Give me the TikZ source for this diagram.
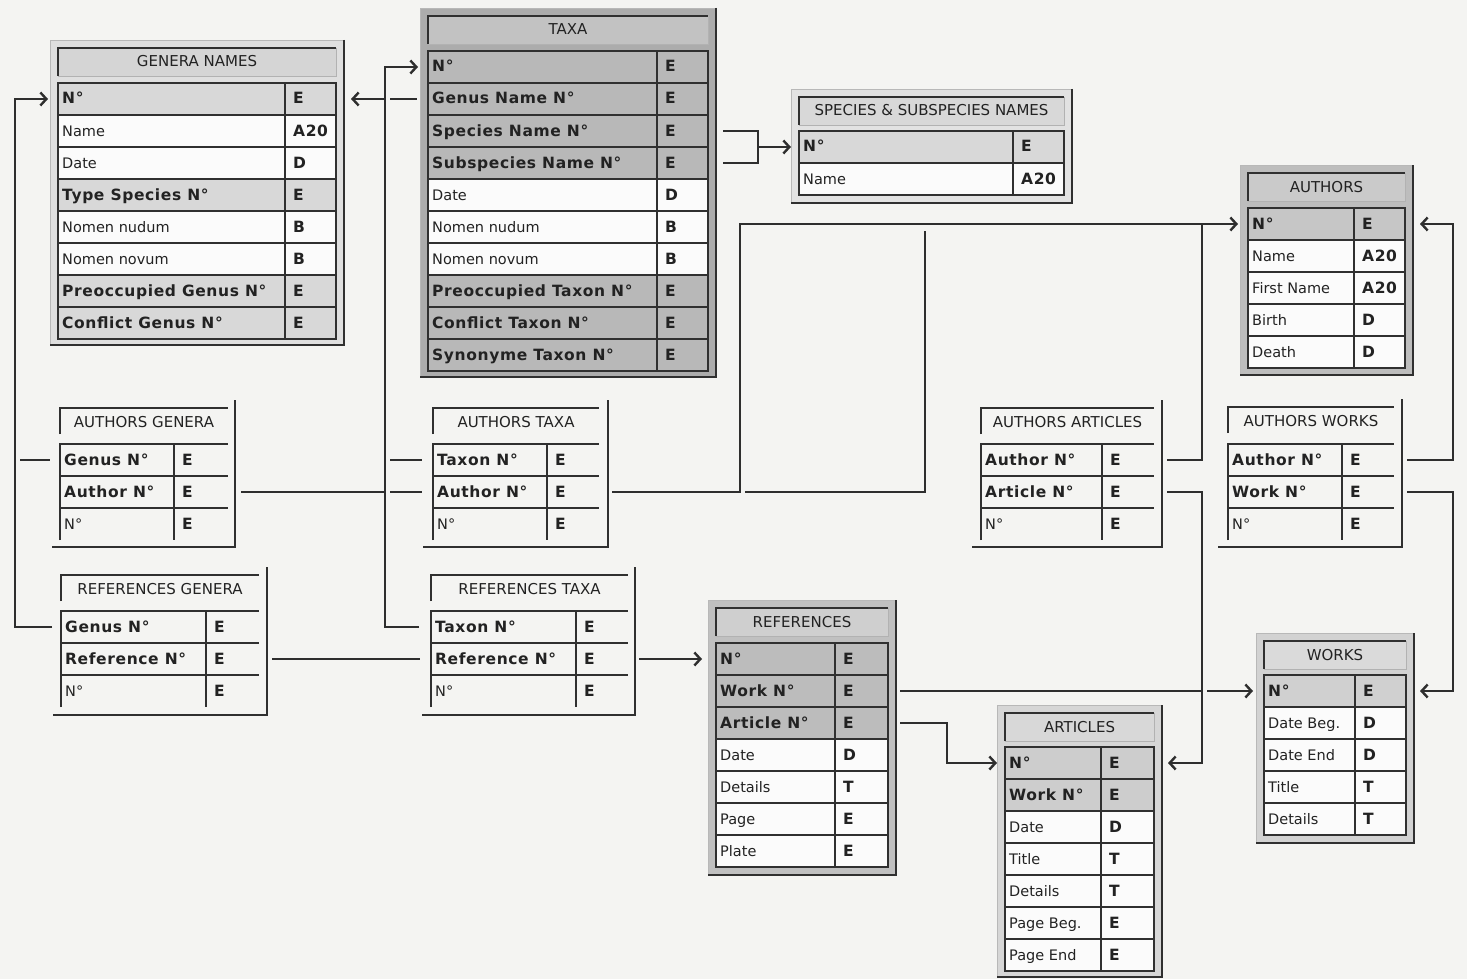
\documentclass[tikz,border=0pt]{standalone}
\usepackage{fontspec}
\setmainfont{DejaVu Sans}
\newfontfamily\chic{DejaVu Sans}[LetterSpace=4]
\usetikzlibrary{arrows.meta,calc}
\definecolor{bg}{HTML}{F4F4F2}
\definecolor{gridc}{HTML}{303030}
\definecolor{connc}{HTML}{2E2E2E}
\definecolor{txt}{HTML}{222222}
\definecolor{wrow}{HTML}{FBFBFB}
\definecolor{gnf}{HTML}{DFDFDF}\definecolor{gnb}{HTML}{D5D5D5}\definecolor{gnk}{HTML}{D8D8D8}
\definecolor{txf}{HTML}{ACACAC}\definecolor{txb}{HTML}{C2C2C2}\definecolor{txk}{HTML}{B8B8B8}
\definecolor{spf}{HTML}{E2E2E2}\definecolor{spb}{HTML}{D8D8D8}\definecolor{spk}{HTML}{D8D8D8}
\definecolor{auf}{HTML}{BDBDBD}\definecolor{aub}{HTML}{CACACA}\definecolor{auk}{HTML}{C6C6C6}
\definecolor{rff}{HTML}{C0C0C0}\definecolor{rfb}{HTML}{CFCFCF}\definecolor{rfk}{HTML}{BCBCBC}
\definecolor{arf}{HTML}{D6D6D6}\definecolor{arb}{HTML}{D8D8D8}\definecolor{ark}{HTML}{CDCDCD}
\definecolor{wkf}{HTML}{D2D2D2}\definecolor{wkb}{HTML}{DADADA}\definecolor{wkk}{HTML}{D0D0D0}
\newcommand\frg{\fontsize{14.5}{16}\selectfont}
\newcommand\ftl{\fontsize{15}{17}\selectfont}
\newcommand\fbd{\chic\bfseries\fontsize{15.5}{18}\selectfont}
\tikzset{
  grid/.style={draw=gridc, line width=1.3pt},
  framedark/.style={draw=gridc, line width=1.8pt},
  rowbox/.style={rectangle, draw=gridc, line width=1.2pt, minimum height=32pt, inner sep=0pt, outer sep=0pt},
  lrow/.style={rectangle, minimum height=32pt, inner sep=0pt, outer sep=0pt},
  lbl/.style={anchor=base west, inner sep=0pt, text=txt},
  typ/.style={anchor=base west, inner sep=0pt, text=txt, font=\fbd},
  ttl/.style={inner sep=0pt, text=txt, font=\ftl},
  mframe/.style={rectangle, draw=black!28, line width=0.8pt, inner sep=0pt, outer sep=0pt},
  tbar/.style={rectangle, draw=black!30, line width=0.8pt, inner sep=0pt, outer sep=0pt},
  conn/.style={draw=connc, line width=2.4pt},
  tip/.style={-{Straight Barb[length=6pt,width=13pt]}},
}
% main table frame: name, x0, y0, x1, y1, frame fill, bar fill, title
\newcommand\MTable[8]{%
  \node[mframe, fill=#6, minimum width={(#4-#2)*1pt}, minimum height={(#5-#3)*1pt}, anchor=north west] (#1) at (#2,#3) {};
  \draw[framedark] (#1.north east) -- (#1.south east) -- (#1.south west);
  \node[tbar, fill=#7, minimum width={(#4-#2-16)*1pt}, minimum height=28pt, anchor=north west] (#1-bar) at (#2+8,#3+8) {};
  \draw[grid] (#1-bar.south west) -- (#1-bar.north west) -- (#1-bar.north east);
  \node[ttl, anchor=base] (#1-title) at ($(#1-bar.center)+(0,5)$) {#8};
}
% main table row: name, left, top, divider, right, fill, font, label, type
\newcommand\KRow[9]{%
  \node[rowbox, fill=#6, minimum width={(#5-#2)*1pt}, anchor=north west] (#1) at (#2,#3) {};
  \draw[grid] (#4,#3) -- (#4,#3+32);
  \node[lbl, font=#7] (#1-l) at ($(#1.west)+(4,5)$) {#8};
  \node[typ] (#1-t) at (#4+8,#3+21) {#9};
}
% link table title and frame: name, xl, ytop, xr, xframe, ybottom, xbottomleft, title
\newcommand\LTitle[8]{%
  \coordinate (#1-tl) at (#2,#3);
  \draw[grid] (#2,#3+26) -- (#1-tl) -- (#4,#3);
  \node[ttl, anchor=base] (#1-title) at ({(#2+#4)/2},#3+19) {#8};
  \draw[grid] (#5,#3-8) -- (#5,#6) -- (#7,#6);
}
% link table row: name, left, top, divider, right, font, label, type
\newcommand\LRow[8]{%
  \node[lrow, minimum width={(#5-#2)*1pt}, anchor=north west] (#1) at (#2,#3) {};
  \draw[grid] (#1.south west) -- (#1.north west) -- (#1.north east);
  \draw[grid] (#4,#3) -- (#4,#3+32);
  \node[lbl, font=#6] (#1-l) at ($(#1.west)+(4,5)$) {#7};
  \node[typ] (#1-t) at (#4+8,#3+21) {#8};
}
\begin{document}
\begin{tikzpicture}[x=1pt,y=-1pt]
\fill[bg] (0,0) rectangle (1467,979);
\useasboundingbox (0,0) rectangle (1467,979);

% ---------- GENERA NAMES ----------
\MTable{gn}{50}{40}{344}{345}{gnf}{gnb}{GENERA NAMES}
\KRow{gn-no}{58}{83}{285}{336}{gnk}{\fbd}{N°}{E}
\KRow{gn-name}{58}{115}{285}{336}{wrow}{\frg}{Name}{A20}
\KRow{gn-date}{58}{147}{285}{336}{wrow}{\frg}{Date}{D}
\KRow{gn-type}{58}{179}{285}{336}{gnk}{\fbd}{Type Species N°}{E}
\KRow{gn-nud}{58}{211}{285}{336}{wrow}{\frg}{Nomen nudum}{B}
\KRow{gn-nov}{58}{243}{285}{336}{wrow}{\frg}{Nomen novum}{B}
\KRow{gn-pre}{58}{275}{285}{336}{gnk}{\fbd}{Preoccupied Genus N°}{E}
\KRow{gn-con}{58}{307}{285}{336}{gnk}{\fbd}{Conflict Genus N°}{E}

% ---------- TAXA ----------
\MTable{tx}{420}{8}{716}{377}{txf}{txb}{TAXA}
\KRow{tx-no}{428}{51}{657}{708}{txk}{\fbd}{N°}{E}
\KRow{tx-genus}{428}{83}{657}{708}{txk}{\fbd}{Genus Name N°}{E}
\KRow{tx-species}{428}{115}{657}{708}{txk}{\fbd}{Species Name N°}{E}
\KRow{tx-subsp}{428}{147}{657}{708}{txk}{\fbd}{Subspecies Name N°}{E}
\KRow{tx-date}{428}{179}{657}{708}{wrow}{\frg}{Date}{D}
\KRow{tx-nud}{428}{211}{657}{708}{wrow}{\frg}{Nomen nudum}{B}
\KRow{tx-nov}{428}{243}{657}{708}{wrow}{\frg}{Nomen novum}{B}
\KRow{tx-pre}{428}{275}{657}{708}{txk}{\fbd}{Preoccupied Taxon N°}{E}
\KRow{tx-con}{428}{307}{657}{708}{txk}{\fbd}{Conflict Taxon N°}{E}
\KRow{tx-syn}{428}{339}{657}{708}{txk}{\fbd}{Synonyme Taxon N°}{E}

% ---------- SPECIES & SUBSPECIES NAMES ----------
\MTable{sp}{791}{89}{1072}{203}{spf}{spb}{SPECIES \& SUBSPECIES NAMES}
\KRow{sp-no}{799}{131}{1013}{1064}{spk}{\fbd}{N°}{E}
\KRow{sp-name}{799}{163}{1013}{1064}{wrow}{\frg}{Name}{A20}

% ---------- AUTHORS ----------
\MTable{au}{1240}{165}{1413}{375}{auf}{aub}{AUTHORS}
\KRow{au-no}{1248}{208}{1354}{1405}{auk}{\fbd}{N°}{E}
\KRow{au-name}{1248}{240}{1354}{1405}{wrow}{\frg}{Name}{A20}
\KRow{au-first}{1248}{272}{1354}{1405}{wrow}{\frg}{First Name}{A20}
\KRow{au-birth}{1248}{304}{1354}{1405}{wrow}{\frg}{Birth}{D}
\KRow{au-death}{1248}{336}{1354}{1405}{wrow}{\frg}{Death}{D}

% ---------- REFERENCES ----------
\MTable{rf}{708}{600}{896}{875}{rff}{rfb}{REFERENCES}
\KRow{rf-no}{716}{643}{835}{888}{rfk}{\fbd}{N°}{E}
\KRow{rf-work}{716}{675}{835}{888}{rfk}{\fbd}{Work N°}{E}
\KRow{rf-article}{716}{707}{835}{888}{rfk}{\fbd}{Article N°}{E}
\KRow{rf-date}{716}{739}{835}{888}{wrow}{\frg}{Date}{D}
\KRow{rf-det}{716}{771}{835}{888}{wrow}{\frg}{Details}{T}
\KRow{rf-page}{716}{803}{835}{888}{wrow}{\frg}{Page}{E}
\KRow{rf-plate}{716}{835}{835}{888}{wrow}{\frg}{Plate}{E}

% ---------- ARTICLES ----------
\MTable{ar}{997}{705}{1162}{977}{arf}{arb}{ARTICLES}
\KRow{ar-no}{1005}{747}{1101}{1154}{ark}{\fbd}{N°}{E}
\KRow{ar-work}{1005}{779}{1101}{1154}{ark}{\fbd}{Work N°}{E}
\KRow{ar-date}{1005}{811}{1101}{1154}{wrow}{\frg}{Date}{D}
\KRow{ar-title}{1005}{843}{1101}{1154}{wrow}{\frg}{Title}{T}
\KRow{ar-det}{1005}{875}{1101}{1154}{wrow}{\frg}{Details}{T}
\KRow{ar-pb}{1005}{907}{1101}{1154}{wrow}{\frg}{Page Beg.}{E}
\KRow{ar-pe}{1005}{939}{1101}{1154}{wrow}{\frg}{Page End}{E}

% ---------- WORKS ----------
\MTable{wk}{1256}{633}{1414}{843}{wkf}{wkb}{WORKS}
\KRow{wk-no}{1264}{675}{1355}{1406}{wkk}{\fbd}{N°}{E}
\KRow{wk-db}{1264}{707}{1355}{1406}{wrow}{\frg}{Date Beg.}{D}
\KRow{wk-de}{1264}{739}{1355}{1406}{wrow}{\frg}{Date End}{D}
\KRow{wk-title}{1264}{771}{1355}{1406}{wrow}{\frg}{Title}{T}
\KRow{wk-det}{1264}{803}{1355}{1406}{wrow}{\frg}{Details}{T}

% ---------- link tables ----------
\LTitle{ag}{60}{408}{228}{235}{547}{52}{AUTHORS GENERA}
\LRow{ag-genus}{60}{444}{174}{228}{\fbd}{Genus N°}{E}
\LRow{ag-author}{60}{476}{174}{228}{\fbd}{Author N°}{E}
\LRow{ag-no}{60}{508}{174}{228}{\frg}{N°}{E}

\LTitle{at}{433}{408}{599}{608}{547}{423}{AUTHORS TAXA}
\LRow{at-taxon}{433}{444}{547}{599}{\fbd}{Taxon N°}{E}
\LRow{at-author}{433}{476}{547}{599}{\fbd}{Author N°}{E}
\LRow{at-no}{433}{508}{547}{599}{\frg}{N°}{E}

\LTitle{rg}{61}{575}{259}{267}{715}{53}{REFERENCES GENERA}
\LRow{rg-genus}{61}{611}{206}{259}{\fbd}{Genus N°}{E}
\LRow{rg-ref}{61}{643}{206}{259}{\fbd}{Reference N°}{E}
\LRow{rg-no}{61}{675}{206}{259}{\frg}{N°}{E}

\LTitle{rt}{431}{575}{628}{635}{715}{422}{REFERENCES TAXA}
\LRow{rt-taxon}{431}{611}{576}{628}{\fbd}{Taxon N°}{E}
\LRow{rt-ref}{431}{643}{576}{628}{\fbd}{Reference N°}{E}
\LRow{rt-no}{431}{675}{576}{628}{\frg}{N°}{E}

\LTitle{aa}{981}{408}{1154}{1162}{547}{972}{AUTHORS ARTICLES}
\LRow{aa-author}{981}{444}{1102}{1154}{\fbd}{Author N°}{E}
\LRow{aa-article}{981}{476}{1102}{1154}{\fbd}{Article N°}{E}
\LRow{aa-no}{981}{508}{1102}{1154}{\frg}{N°}{E}

\LTitle{aw}{1228}{407}{1394}{1402}{547}{1218}{AUTHORS WORKS}
\LRow{aw-author}{1228}{444}{1342}{1394}{\fbd}{Author N°}{E}
\LRow{aw-work}{1228}{476}{1342}{1394}{\fbd}{Work N°}{E}
\LRow{aw-no}{1228}{508}{1342}{1394}{\frg}{N°}{E}

% ---------- bus coordinates ----------
\coordinate (lbus) at (15,0);
\coordinate (mbus) at (385,0);
\coordinate (abus) at (740,0);
\coordinate (dtop) at (925,231);
\coordinate (rbus) at (1202,0);
\coordinate (fbus) at (1453,0);
\coordinate (kbus) at (947,0);
\coordinate (sbus) at (758,0);

% ---------- connectors ----------
\draw[conn,tip] ([xshift=-9pt]rg-genus.west) -- (rg-genus -| lbus) -- (gn-no -| lbus) -- ([xshift=-10pt]gn-no.west);
\draw[conn] ($(ag-genus -| lbus)+(5,0)$) -- ([xshift=-10pt]ag-genus.west);

\draw[conn,tip] ([xshift=-12pt]rt-taxon.west) -- (rt-taxon -| mbus) -- (tx-no -| mbus) -- ([xshift=-10pt]tx-no.west);
\draw[conn,tip] (tx-genus -| mbus) -- ([xshift=15pt]gn-no.east);
\draw[conn] ($(tx-genus -| mbus)+(5,0)$) -- ([xshift=-11pt]tx-genus.west);
\draw[conn] ($(at-taxon -| mbus)+(5,0)$) -- ([xshift=-11pt]at-taxon.west);

\draw[conn] ([xshift=13pt]ag-author.east) -- (ag-author -| mbus);
\draw[conn] ($(at-author -| mbus)+(5,0)$) -- ([xshift=-11pt]at-author.west);

\draw[conn,tip] ([xshift=13pt]at-author.east) -- (at-author -| abus) -- (au-no -| abus) -- ([xshift=-10pt]au-no.west);
\draw[conn] ($(at-author -| abus)+(5,0)$) -- (at-author -| dtop) -- (dtop);

\draw[conn] ([xshift=13pt]aa-author.east) -- (aa-author -| rbus) -- (au-no -| rbus);
\draw[conn,tip] ([xshift=13pt]aa-article.east) -- (aa-article -| rbus) -- (ar-no -| rbus) -- ([xshift=14pt]ar-no.east);

\draw[conn,tip] ([xshift=13pt]aw-author.east) -- (aw-author -| fbus) -- (au-no -| fbus) -- ([xshift=15pt]au-no.east);
\draw[conn,tip] ([xshift=13pt]aw-work.east) -- (aw-work -| fbus) -- (wk-no -| fbus) -- ([xshift=14pt]wk-no.east);

\draw[conn] ([xshift=13pt]rg-ref.east) -- ([xshift=-11pt]rt-ref.west);
\draw[conn,tip] ([xshift=11pt]rt-ref.east) -- ([xshift=-14pt]rf-no.west);

\draw[conn] ([xshift=12pt]rf-work.east) -- (rf-work -| rbus);
\draw[conn,tip] ($(rf-work -| rbus)+(5,0)$) -- ([xshift=-11pt]wk-no.west);
\draw[conn,tip] ([xshift=12pt]rf-article.east) -- (rf-article -| kbus) -- (ar-no -| kbus) -- ([xshift=-8pt]ar-no.west);

\draw[conn] ([xshift=15pt]tx-species.east) -- (tx-species -| sbus) -- (tx-subsp -| sbus) -- ([xshift=15pt]tx-subsp.east);
\draw[conn,tip] (sp-no -| sbus) -- ([xshift=-8pt]sp-no.west);
\end{tikzpicture}
\end{document}
